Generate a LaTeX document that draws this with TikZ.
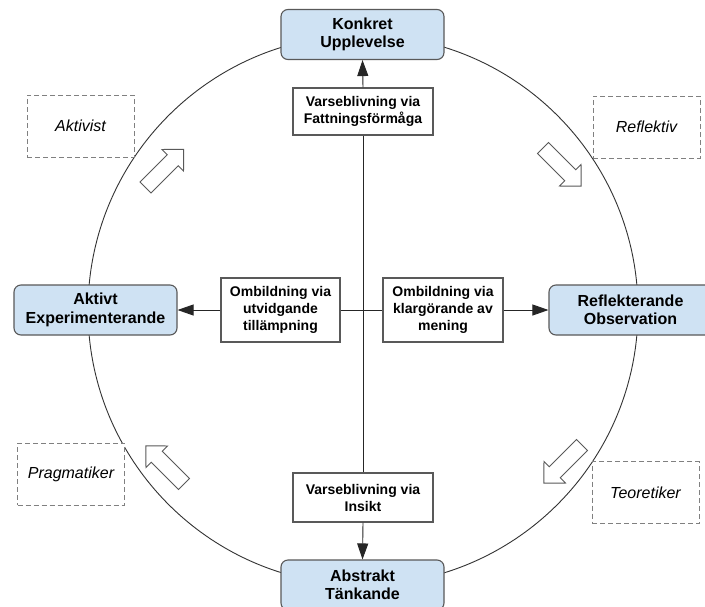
\documentclass[tikz,border=0pt]{standalone}
\usepackage{fontspec}
\setmainfont{Liberation Sans}
\usetikzlibrary{arrows.meta}
\definecolor{nodefill}{HTML}{CFE2F3}
\definecolor{edge}{HTML}{595959}
\definecolor{dashgray}{HTML}{808080}
\tikzset{
  stage/.style={draw=edge, line width=1.1pt, fill=nodefill, rounded corners=7pt,
    minimum width=163pt, minimum height=50pt, align=center,
    font=\fontsize{16}{18.5}\selectfont\bfseries, inner sep=0pt},
  modebox/.style={draw=edge, line width=1.1pt, fill=white, align=center,
    font=\fontsize{14}{17}\selectfont\bfseries, inner sep=0pt},
  stylebox/.style={draw=dashgray, line width=1pt, dash pattern=on 5pt off 3pt, fill=white,
    minimum width=107pt, minimum height=62pt, inner sep=0pt,
    font=\fontsize{16}{19}\selectfont\itshape},
  conn/.style={draw=black!85, line width=0.9pt},
  tipconn/.style={conn, -{Triangle[length=16pt,width=11pt]}},
  blockarrow/.style={draw=edge, line width=0.9pt, fill=white, line join=miter}
}
\newcommand{\blockarr}[3]{%
  \begin{scope}[shift={(#1,#2)}, rotate=#3]
    \draw[blockarrow] (0,-7.8) -- (38.5,-7.8) -- (38.5,-15.3) -- (54,0) -- (38.5,15.3) -- (38.5,7.8) -- (0,7.8) -- cycle;
  \end{scope}}
\begin{document}
\begin{tikzpicture}[x=1pt,y=-1pt]
\useasboundingbox (0,0) rectangle (705,606);
\fill[white] (0,0) rectangle (705,606);

% cycle circle
\draw[draw=black!80, line width=0.9pt] (363,310) circle[radius=275];

% stages
\node[stage] (konkret) at (362.5,34.5) {Konkret\\Upplevelse};
\node[stage] (abstrakt) at (362.5,585) {Abstrakt\\Tänkande};
\node[stage] (aktivt) at (95.5,310) {Aktivt\\Experimenterande};
\node[stage] (reflekt) at (630.5,310) {Reflekterande\\Observation};

% transformation boxes
\node[modebox, minimum width=140pt, minimum height=47pt] (fatt) at (363,111.5) {Varseblivning via\\Fattningsförmåga};
\node[modebox, minimum width=140pt, minimum height=49pt] (insikt) at (363,497.5) {Varseblivning via\\Insikt};
\node[modebox, minimum width=119pt, minimum height=64pt] (utvid) at (280.5,310) {Ombildning via\\utvidgande\\tillämpning};
\node[modebox, minimum width=120pt, minimum height=64pt] (klar) at (443,310) {Ombildning via\\klargörande av\\mening};

% connectors
\draw[conn] (fatt.south) -- (insikt.north);
\draw[conn] (utvid.east) -- (klar.west);
\draw[tipconn] (fatt.north) -- (konkret.south);
\draw[tipconn] (insikt.south) -- (abstrakt.north);
\draw[tipconn] (utvid.west) -- (aktivt.east);
\draw[tipconn] (klar.east) -- (reflekt.west);

% learning styles
\node[stylebox] (aktivist) at (80.5,126) {Aktivist};
\node[stylebox] (reflektiv) at (646.5,127) {Reflektiv};
\node[stylebox] (pragmatiker) at (71,474) {Pragmatiker};
\node[stylebox] (teoretiker) at (645.5,492.5) {Teoretiker};

% block arrows
\blockarr{145.5}{187.5}{45}
\blockarr{543}{148}{-45}
\blockarr{582}{445}{-135}
\blockarr{184}{484}{135}
\end{tikzpicture}
\end{document}
